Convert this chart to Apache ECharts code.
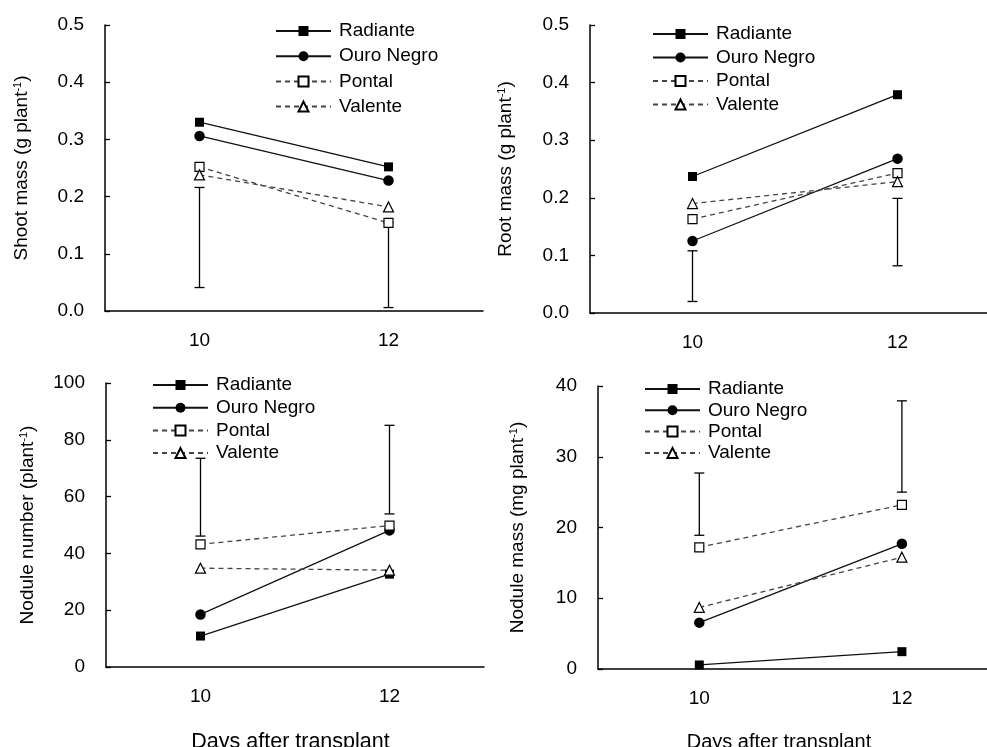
<!DOCTYPE html>
<html><head><meta charset="utf-8">
<script src="https://cdn.jsdelivr.net/npm/echarts@6/dist/echarts.min.js"></script>
<style>html,body{margin:0;padding:0;background:#fff}#c{width:987px;height:747px}</style>
</head><body><div id="c"></div>
<script>
// ---------- data ----------
const days = [10, 12];
const xTickLabels = ['10', '12'];
const cultivars = ['Radiante', 'Ouro Negro', 'Pontal', 'Valente'];

// Shoot mass (g plant-1)
const shootRadiante = [0.330, 0.252];
const shootOuroNegro = [0.306, 0.228];
const shootPontal = [0.252, 0.154];
const shootValente = [0.238, 0.182];
const shootBars = [[10, 0.041, 0.216], [12, 0.006, 0.154]];
const shootTicks = ['0.0', '0.1', '0.2', '0.3', '0.4', '0.5'];

// Root mass (g plant-1)
const rootRadiante = [0.237, 0.379];
const rootOuroNegro = [0.125, 0.268];
const rootPontal = [0.163, 0.243];
const rootValente = [0.190, 0.228];
const rootBars = [[10, 0.020, 0.108], [12, 0.082, 0.199]];
const rootTicks = ['0.0', '0.1', '0.2', '0.3', '0.4', '0.5'];

// Nodule number (plant-1)
const numRadiante = [10.9, 32.7];
const numOuroNegro = [18.5, 48.1];
const numPontal = [43.2, 49.8];
const numValente = [34.8, 34.1];
const numBars = [[10, 46.1, 73.5], [12, 53.9, 85.1]];
const numTicks = ['0', '20', '40', '60', '80', '100'];

// Nodule mass (mg plant-1)
const massRadiante = [0.57, 2.45];
const massOuroNegro = [6.55, 17.7];
const massPontal = [17.2, 23.2];
const massValente = [8.7, 15.8];
const massBars = [[10, 18.9, 27.7], [12, 25.0, 37.9]];
const massTicks = ['0', '10', '20', '30', '40'];

// ---------- styles ----------
const FONT = "'Liberation Sans', Arial, sans-serif";
const styleFor = {
  'Radiante':   {symbol: 'rect', symbolSize: 9, itemStyle: {color: '#000'}, lineStyle: {color: '#111', width: 1.3, type: 'solid'}},
  'Ouro Negro': {symbol: 'circle', symbolSize: 10.5, itemStyle: {color: '#000'}, lineStyle: {color: '#111', width: 1.3, type: 'solid'}},
  'Pontal':     {symbol: 'rect', symbolSize: 9, itemStyle: {color: '#fff', borderColor: '#000', borderWidth: 1.2}, lineStyle: {color: '#444', width: 1.3, type: [5, 4]}},
  'Valente':    {symbol: 'triangle', symbolSize: 10, itemStyle: {color: '#fff', borderColor: '#000', borderWidth: 1.2}, lineStyle: {color: '#444', width: 1.3, type: [5, 4]}}
};

function errRender(params, api) {
  const x = api.value(0), lo = api.value(1), hi = api.value(2);
  const pLo = api.coord([x, lo]), pHi = api.coord([x, hi]);
  const w = 5;
  const style = {stroke: '#000', lineWidth: 1.3};
  return {type: 'group', children: [
    {type: 'line', shape: {x1: pLo[0], y1: pLo[1], x2: pHi[0], y2: pHi[1]}, style},
    {type: 'line', shape: {x1: pLo[0] - w, y1: pLo[1], x2: pLo[0] + w, y2: pLo[1]}, style},
    {type: 'line', shape: {x1: pHi[0] - w, y1: pHi[1], x2: pHi[0] + w, y2: pHi[1]}, style}
  ]};
}

const panels = [
  {vals: [shootRadiante, shootOuroNegro, shootPontal, shootValente], bars: shootBars, ticks: shootTicks, max: 0.5, interval: 0.1,
   name: '{a|Shoot mass (g plant}{s|-1}{a|)}', grid: {left: 105, top: 25, width: 378, height: 286}, xMax: 13, nameGap: 74,
   legend: {left: 275, top: 21.5, itemGap: 6.2}, xName: null},
  {vals: [rootRadiante, rootOuroNegro, rootPontal, rootValente], bars: rootBars, ticks: rootTicks, max: 0.5, interval: 0.1,
   name: '{a|Root mass (g plant}{s|-1}{a|)}', grid: {left: 590, top: 25, width: 397, height: 288}, xMax: 12.873, nameGap: 75,
   legend: {left: 652, top: 24.5, itemGap: 4.5}, xName: null},
  {vals: [numRadiante, numOuroNegro, numPontal, numValente], bars: numBars, ticks: numTicks, max: 100, interval: 20,
   name: '{a|Nodule number (plant}{s|-1}{a|)}', grid: {left: 106, top: 383, width: 378, height: 284}, xMax: 13, nameGap: 69,
   legend: {left: 152, top: 375.5, itemGap: 3.7}, xName: 'Days after transplant', xNameSize: 21.5, xNameGap: 64, xPad: [0, 9, 0, 0]},
  {vals: [massRadiante, massOuroNegro, massPontal, massValente], bars: massBars, ticks: massTicks, max: 40, interval: 10,
   name: '{a|Nodule mass (mg plant}{s|-1}{a|)}', grid: {left: 598, top: 386, width: 389, height: 283}, xMax: 12.84, nameGap: 71,
   legend: {left: 644, top: 379.5, itemGap: 2.3}, xName: 'Days after transplant', xNameSize: 20, xNameGap: 63, xPad: [0, 27, 0, 0]}
];

const option = {
  backgroundColor: '#fff',
  animation: false,
  textStyle: {fontFamily: FONT, color: '#000'},
  grid: [], xAxis: [], yAxis: [], series: [], legend: []
};

panels.forEach((p, i) => {
  option.grid.push(Object.assign({outerBoundsMode: 'none', containLabel: false}, p.grid));
  option.xAxis.push({
    type: 'value', gridIndex: i, min: 9, max: p.xMax, interval: 1,
    axisLine: {lineStyle: {color: '#000', width: 1.5}},
    axisTick: {show: false}, splitLine: {show: false},
    axisLabel: {fontSize: 19, color: '#000', fontFamily: FONT, margin: 20, showMaxLabel: false,
      formatter: v => { const k = days.indexOf(v); return k >= 0 ? xTickLabels[k] : ''; }},
    name: p.xName || '', nameLocation: 'middle', nameGap: p.xNameGap || 59,
    nameTextStyle: {fontSize: p.xNameSize || 19, color: '#000', fontFamily: FONT, padding: p.xPad || 0}
  });
  option.yAxis.push({
    type: 'value', gridIndex: i, min: 0, max: p.max, interval: p.interval,
    axisLine: {show: true, lineStyle: {color: '#000', width: 1.5}},
    axisTick: {show: true, inside: true, length: 5, lineStyle: {color: '#000', width: 1.3}},
    splitLine: {show: false},
    axisLabel: {fontSize: 19, color: '#000', fontFamily: FONT, margin: 21,
      formatter: v => p.ticks[Math.round(v / p.interval)]},
    name: p.name, nameLocation: 'middle', nameGap: p.nameGap,
    nameTextStyle: {fontFamily: FONT, rich: {
      a: {fontSize: 19, color: '#000', fontFamily: FONT},
      s: {fontSize: 11, color: '#000', fontFamily: FONT, verticalAlign: 'top'}
    }}
  });
  option.series.push({
    type: 'custom', xAxisIndex: i, yAxisIndex: i, z: 1,
    renderItem: errRender, encode: {x: 0, y: [1, 2]}, data: p.bars, silent: true
  });
  cultivars.forEach((name, k) => {
    const st = styleFor[name];
    option.series.push({
      type: 'line', name, xAxisIndex: i, yAxisIndex: i, z: 3,
      symbol: st.symbol, symbolSize: st.symbolSize, itemStyle: st.itemStyle, lineStyle: st.lineStyle,
      data: days.map((d, j) => [d, p.vals[k][j]])
    });
  });
  option.legend.push({
    orient: 'vertical', left: p.legend.left, top: p.legend.top, padding: 0,
    itemWidth: 55, itemHeight: 12.5, itemGap: p.legend.itemGap, selectedMode: false,
    data: cultivars,
    textStyle: {fontSize: 19, color: '#000', fontFamily: FONT, padding: [0, 0, 0, 3]}
  });
});

const chart = echarts.init(document.getElementById('c'), null, {renderer: 'canvas'});
chart.setOption(option);
</script></body></html>
